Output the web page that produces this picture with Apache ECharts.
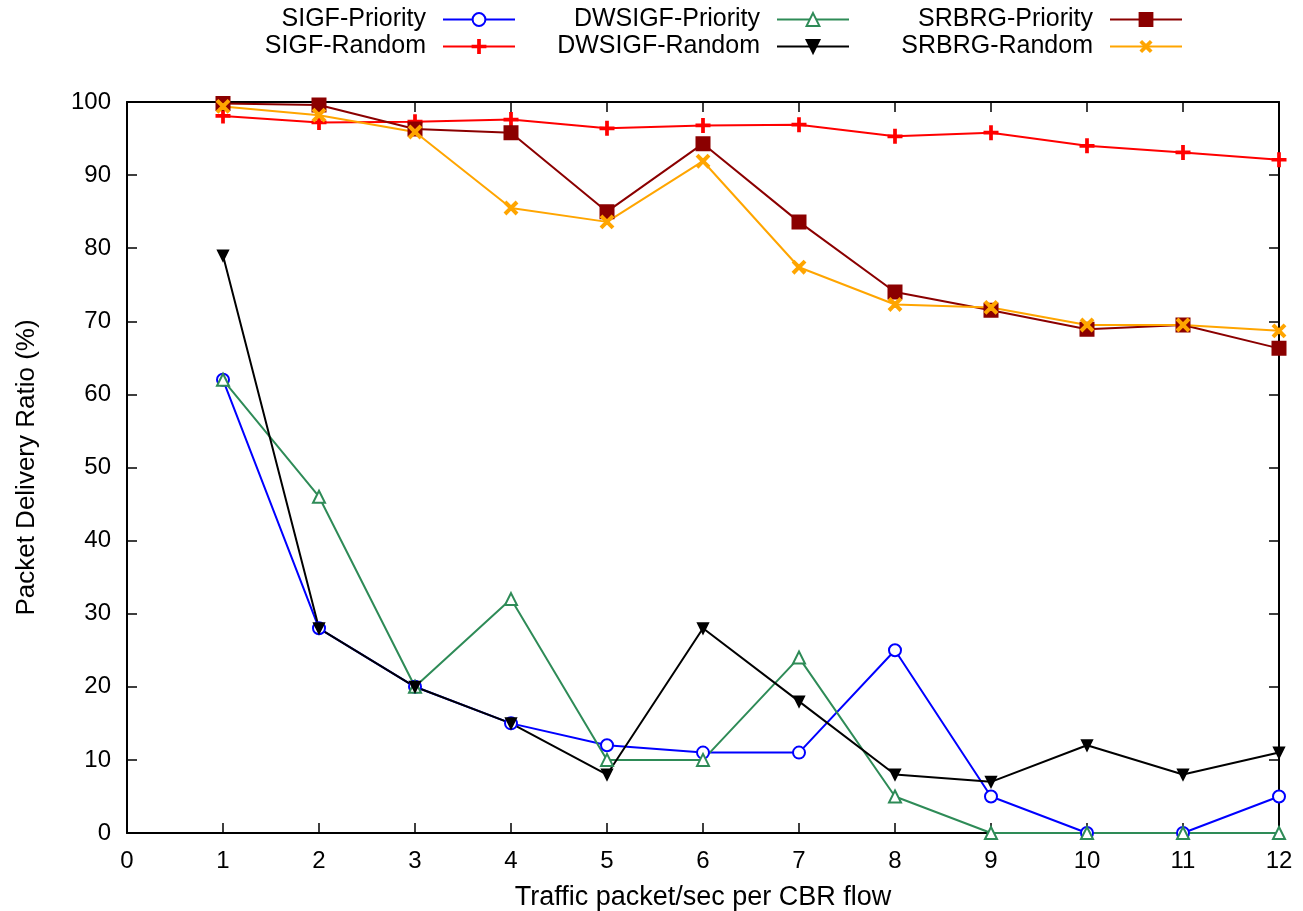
<!DOCTYPE html>
<html>
<head>
<meta charset="utf-8">
<script src="https://cdn.jsdelivr.net/npm/echarts@6/dist/echarts.min.js"></script>
<style>
html,body{margin:0;padding:0;background:#fff;}
#chart{width:1303px;height:911px;}
</style>
</head>
<body>
<div id="chart"></div>
<script>
const xValues = [1,2,3,4,5,6,7,8,9,10,11,12];
const sigfPriority   = [62,28,20,15,12,11,11,25,5,0,0,5];
const sigfRandom     = [98.1,97.2,97.3,97.6,96.4,96.8,96.9,95.3,95.8,94.0,93.1,92.1];
const dwsigfPriority = [62,46,20,32,10,10,24,5,0,0,0,0];
const dwsigfRandom   = [79,28,20,15,8,28,18,8,7,12,8,11];
const srbrgPriority  = [99.8,99.6,96.3,95.8,85.0,94.3,83.6,74.0,71.5,68.9,69.5,66.3];
const srbrgRandom    = [99.4,98.2,95.9,85.5,83.6,91.9,77.4,72.3,71.9,69.5,69.5,68.7];
const seriesNames = ['SIGF-Priority','SIGF-Random','DWSIGF-Priority','DWSIGF-Random','SRBRG-Priority','SRBRG-Random'];

const FONT = 'Liberation Sans';
const FS = 24;
const plusPath = 'path://M5.2,0H6.8V5.2H12V6.8H6.8V12H5.2V6.8H0V5.2H5.2Z';

function pairs(arr){ return xValues.map((x,i)=>[x,arr[i]]); }

function mk(name, data, color, symbol, size, rotate){
  return {
    name: name, type: 'line', data: pairs(data),
    xAxisIndex: 0, yAxisIndex: 0,
    symbol: symbol, symbolSize: size, symbolRotate: rotate || 0,
    showAllSymbol: true,
    lineStyle: {color: color, width: 2},
    itemStyle: {color: color, borderColor: color, borderWidth: 2},
    emphasis: {disabled: true},
    animation: false
  };
}

const legendBase = {
  orient: 'vertical', align: 'right', top: 6, padding: 0,
  itemWidth: 72, itemHeight: 16, itemGap: 0,
  textStyle: {fontFamily: FONT, fontSize: 25, color: '#000', lineHeight: 27, padding: [0, 12, 0, 0]}
};

function xAxisDef(extra){
  return Object.assign({
    type: 'value', min: 0, max: 12, interval: 1,
    axisLine: {show: true, onZero: false, lineStyle: {color: '#000', width: 2}},
    axisTick: {show: true, inside: true, length: 10, lineStyle: {color: '#000', width: 1.5}},
    splitLine: {show: false}
  }, extra);
}
function yAxisDef(extra){
  return Object.assign({
    type: 'value', min: 0, max: 100, interval: 10,
    axisLine: {show: true, onZero: false, lineStyle: {color: '#000', width: 2}},
    axisTick: {show: true, inside: true, length: 10, lineStyle: {color: '#000', width: 1.5}},
    splitLine: {show: false}
  }, extra);
}

const option = {
  backgroundColor: '#fff',
  animation: false,
  legend: [
    Object.assign({}, legendBase, {right: 787, data: [seriesNames[0], seriesNames[1]]}),
    Object.assign({}, legendBase, {right: 453, data: [seriesNames[2], seriesNames[3]]}),
    Object.assign({}, legendBase, {right: 120, data: [seriesNames[4], seriesNames[5]]})
  ],
  grid: {left: 127, right: 24, top: 102, bottom: 78, containLabel: false, outerBoundsMode: 'none'},
  xAxis: [
    xAxisDef({
      position: 'bottom',
      name: 'Traffic packet/sec per CBR flow', nameLocation: 'middle', nameGap: 51,
      nameTextStyle: {fontFamily: FONT, fontSize: 27, color: '#000'},
      axisLabel: {show: true, margin: 16, fontFamily: FONT, fontSize: FS, color: '#000', showMinLabel: true, showMaxLabel: true}
    }),
    xAxisDef({position: 'top', axisLabel: {show: false}})
  ],
  yAxis: [
    yAxisDef({
      position: 'left',
      name: 'Packet Delivery Ratio (%)', nameLocation: 'middle', nameGap: 87, nameRotate: 90,
      nameTextStyle: {fontFamily: FONT, fontSize: 26, color: '#000'},
      axisLabel: {show: true, margin: 16, fontFamily: FONT, fontSize: FS, color: '#000', showMinLabel: true, showMaxLabel: true}
    }),
    yAxisDef({position: 'right', axisLabel: {show: false}})
  ],
  series: [
    mk(seriesNames[0], sigfPriority, '#0000ff', 'emptyCircle', 12),
    mk(seriesNames[1], sigfRandom, '#ff0000', plusPath, 13),
    mk(seriesNames[2], dwsigfPriority, '#2e8b57', 'emptyTriangle', 12),
    mk(seriesNames[3], dwsigfRandom, '#000000', 'triangle', 10, 180),
    mk(seriesNames[4], srbrgPriority, '#8b0000', 'rect', 13),
    mk(seriesNames[5], srbrgRandom, '#ffa500', plusPath, 15, 45)
  ]
};

const chart = echarts.init(document.getElementById('chart'), null, {renderer: 'canvas'});
chart.setOption(option);
</script>
</body>
</html>
